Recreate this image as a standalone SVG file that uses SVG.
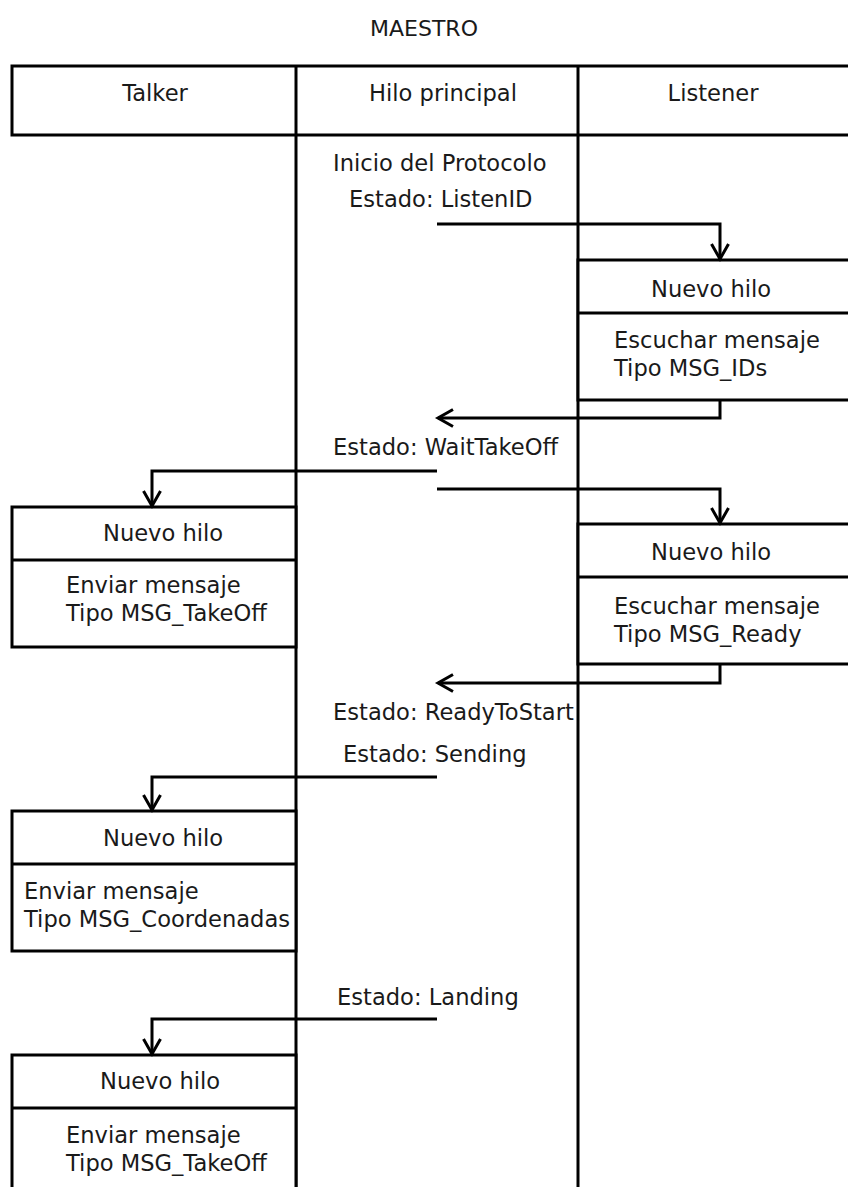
<svg xmlns="http://www.w3.org/2000/svg" width="848" height="1187" viewBox="0 0 848 1187">
  <defs>
    <marker id="open-arrow" viewBox="-18 -12 22 24" refX="0" refY="0" markerWidth="22" markerHeight="24" markerUnits="userSpaceOnUse" orient="auto">
      <path d="M-15,-8.5 L0,0 L-15,8.5" fill="none" stroke="#000" stroke-width="3"/>
    </marker>
    <style>
      text { font-family: "DejaVu Sans", "Liberation Sans", sans-serif; font-size: 22.6px; fill: #1a1a1a; }
      .box { fill: #fff; stroke: #000; stroke-width: 3; }
      .line { fill: none; stroke: #000; stroke-width: 3; }
      .conn { fill: none; stroke: #000; stroke-width: 3; marker-end: url(#open-arrow); }
      .mid { text-anchor: middle; }
    </style>
  </defs>
  <rect width="848" height="1187" fill="#fff"/>

  <text id="title" x="424" y="36" class="mid" style="font-size:22px">MAESTRO</text>

  <!-- lifelines -->
  <g id="lifelines">
    <line class="line" x1="296" y1="66" x2="296" y2="1190"/>
    <line class="line" x1="578" y1="66" x2="578" y2="1190"/>
  </g>

  <!-- header row -->
  <g id="header">
    <path class="box" d="M852,66 H12 V135 H852"/>
    <line class="line" x1="296" y1="66" x2="296" y2="135"/>
    <line class="line" x1="578" y1="66" x2="578" y2="135"/>
    <text x="155" y="101" class="mid">Talker</text>
    <text x="443" y="101" class="mid">Hilo principal</text>
    <text x="713" y="101" class="mid">Listener</text>
  </g>

  <!-- main thread state labels -->
  <g id="main-states">
    <text x="333" y="171">Inicio del Protocolo</text>
    <text x="349" y="207">Estado: ListenID</text>
    <text x="333" y="455">Estado: WaitTakeOff</text>
    <text x="333" y="720">Estado: ReadyToStart</text>
    <text x="343" y="762">Estado: Sending</text>
    <text x="337" y="1005">Estado: Landing</text>
  </g>

  <!-- listener thread 1 -->
  <g id="listener-ids">
    <path class="box" d="M852,260 H578 V400 H852"/>
    <line class="line" x1="578" y1="313" x2="852" y2="313"/>
    <text x="651" y="297">Nuevo hilo</text>
    <text x="614" y="348">Escuchar mensaje</text>
    <text x="614" y="376">Tipo MSG_IDs</text>
  </g>

  <!-- talker thread: take-off -->
  <g id="talker-takeoff">
    <rect class="box" x="12" y="507" width="284" height="140"/>
    <line class="line" x1="12" y1="560" x2="296" y2="560"/>
    <text x="103" y="541">Nuevo hilo</text>
    <text x="66" y="593">Enviar mensaje</text>
    <text x="66" y="621">Tipo MSG_TakeOff</text>
  </g>

  <!-- listener thread 2 -->
  <g id="listener-ready">
    <path class="box" d="M852,524 H578 V664 H852"/>
    <line class="line" x1="578" y1="577" x2="852" y2="577"/>
    <text x="651" y="560">Nuevo hilo</text>
    <text x="614" y="614">Escuchar mensaje</text>
    <text x="614" y="642">Tipo MSG_Ready</text>
  </g>

  <!-- talker thread: coordinates -->
  <g id="talker-coords">
    <rect class="box" x="12" y="811" width="284" height="140"/>
    <line class="line" x1="12" y1="864" x2="296" y2="864"/>
    <text x="103" y="846">Nuevo hilo</text>
    <text x="24" y="899">Enviar mensaje</text>
    <text x="24" y="927">Tipo MSG_Coordenadas</text>
  </g>

  <!-- talker thread: landing -->
  <g id="talker-landing">
    <path class="box" d="M12,1192 V1055 H296 V1192"/>
    <line class="line" x1="12" y1="1108" x2="296" y2="1108"/>
    <text x="100" y="1089">Nuevo hilo</text>
    <text x="66" y="1143">Enviar mensaje</text>
    <text x="66" y="1171">Tipo MSG_TakeOff</text>
  </g>

  <!-- connectors -->
  <g id="connectors">
    <path class="conn" d="M437,224 H720 V259"/>
    <path class="conn" d="M720,400 V418 H438"/>
    <path class="conn" d="M437,471 H152 V506"/>
    <path class="conn" d="M437,489 H720 V523"/>
    <path class="conn" d="M720,664 V683 H438"/>
    <path class="conn" d="M437,777 H152 V810"/>
    <path class="conn" d="M437,1019 H152 V1054"/>
  </g>
</svg>
